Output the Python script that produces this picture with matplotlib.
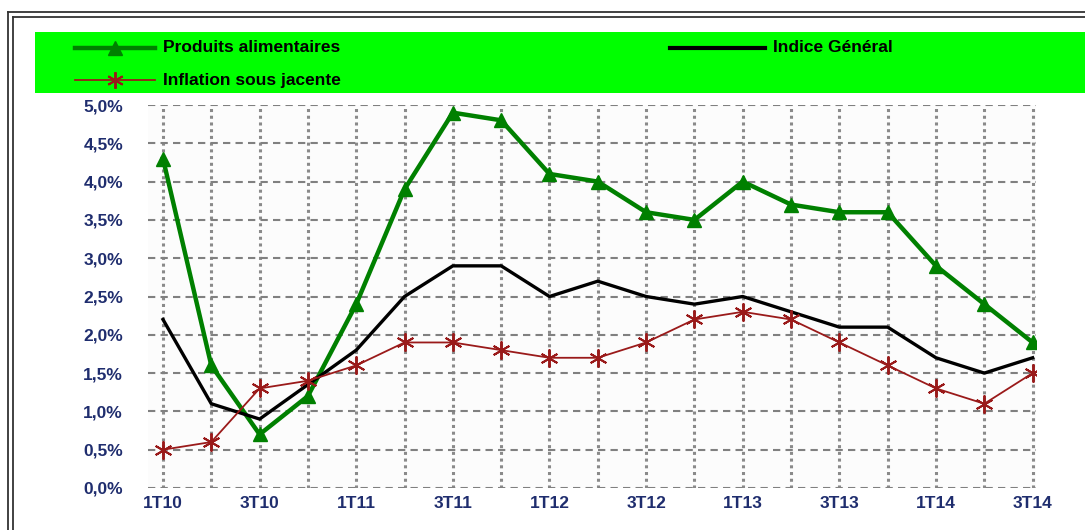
import matplotlib
matplotlib.use("Agg")
import matplotlib.pyplot as plt
from matplotlib.lines import Line2D
from matplotlib.patches import Rectangle

# ---- data ----
quarters = ["1T10", "2T10", "3T10", "4T10",
            "1T11", "2T11", "3T11", "4T11",
            "1T12", "2T12", "3T12", "4T12",
            "1T13", "2T13", "3T13", "4T13",
            "1T14", "2T14", "3T14"]
produits_alimentaires = [4.3, 1.6, 0.7, 1.2, 2.4, 3.9, 4.9, 4.8, 4.1, 4.0,
                         3.6, 3.5, 4.0, 3.7, 3.6, 3.6, 2.9, 2.4, 1.9]
indice_general = [2.2, 1.1, 0.9, 1.35, 1.8, 2.5, 2.9, 2.9, 2.5, 2.7,
                  2.5, 2.4, 2.5, 2.3, 2.1, 2.1, 1.7, 1.5, 1.7]
inflation_sous_jacente = [0.5, 0.6, 1.3, 1.4, 1.6, 1.9, 1.9, 1.8, 1.7, 1.7,
                          1.9, 2.2, 2.3, 2.2, 1.9, 1.6, 1.3, 1.1, 1.5]
yticks = [0.0, 0.5, 1.0, 1.5, 2.0, 2.5, 3.0, 3.5, 4.0, 4.5, 5.0]
ytick_labels = ["0,0%", "0,5%", "1,0%", "1,5%", "2,0%", "2,5%",
                "3,0%", "3,5%", "4,0%", "4,5%", "5,0%"]
series_labels = ["Produits alimentaires", "Indice Général", "Inflation sous jacente"]

W, H = 1085, 530
GREEN = "#008000"
RED = "#9a1a1a"
TICKC = "#1f2d6e"

plt.rcParams["font.family"] = ["Liberation Sans", "DejaVu Sans"]

fig = plt.figure(figsize=(W / 100, H / 100), dpi=100)
fig.patch.set_facecolor("white")


def fx(px):
    return px / W


def fy(py):
    return 1 - py / H


# double frame
for off in (0, 5):
    fig.add_artist(Line2D([fx(8 + off), fx(8 + off)], [fy(12 + off), fy(H + 5)],
                          color="#333333", lw=1.3, transform=fig.transFigure))
    fig.add_artist(Line2D([fx(8 + off), fx(W + 5)], [fy(12 + off), fy(12 + off)],
                          color="#333333", lw=1.3, transform=fig.transFigure))

# legend box
fig.add_artist(Rectangle((fx(35), fy(93)), fx(W - 35), 61 / H,
                         facecolor="#00ff00", edgecolor="none",
                         transform=fig.transFigure))

# axes
ax = fig.add_axes([fx(148), fy(488), fx(1036 - 148), (488 - 105) / H])
ax.set_facecolor("#fcfcfc")
x = list(range(len(quarters)))

ax.plot(x, produits_alimentaires, color=GREEN, lw=3.2, marker="^",
        markersize=10, markerfacecolor=GREEN, markeredgecolor=GREEN, zorder=3)
ax.plot(x, indice_general, color="black", lw=2.4, zorder=4)
ax.plot(x, inflation_sous_jacente, color=RED, lw=1.3, marker=(6, 2, 0),
        markersize=13, markeredgewidth=1.4, markeredgecolor=RED, zorder=5)

ax.set_xlim(-0.31, 18.07)
ax.set_ylim(0, 5)
ax.set_yticks(yticks)
ax.set_yticklabels(ytick_labels)
ax.set_xticks(x)
ax.set_xticklabels([q if i % 2 == 0 else "" for i, q in enumerate(quarters)])

ax.yaxis.grid(True, color="#808080", lw=1.5, linestyle=(0, (3.5, 2.5)), zorder=1)
ax.xaxis.grid(True, color="#8a8a8a", lw=2.2, linestyle=(0, (1.0, 1.2)), zorder=1)
ax.set_axisbelow(True)
for s in ax.spines.values():
    s.set_visible(False)
ax.tick_params(axis="both", length=0, colors=TICKC, labelsize=12.5)
ax.tick_params(axis="y", pad=18)
ax.tick_params(axis="x", pad=6)
for lab in ax.get_xticklabels() + ax.get_yticklabels():
    lab.set_fontweight("bold")
    lab.set_color(TICKC)

# legend entries
def legend_entry(x0, x1, y, color, lw, marker, ms, mew, label):
    fig.add_artist(Line2D([fx(x0), fx(x1)], [fy(y), fy(y)], color=color, lw=lw,
                          transform=fig.transFigure))
    if marker is not None:
        fig.add_artist(Line2D([fx((x0 + x1) / 2)], [fy(y)], color=color,
                              marker=marker, markersize=ms, markeredgewidth=mew,
                              markerfacecolor=color, markeredgecolor=color,
                              linestyle="none", transform=fig.transFigure))
    fig.text(fx(x1 + 8), fy(y), label, fontsize=12.5, fontweight="bold",
             color="black", va="center", ha="left")


legend_entry(75, 155, 48, GREEN, 3.2, "^", 10, 1, series_labels[0])
legend_entry(670, 765, 48, "black", 3.0, None, 0, 0, series_labels[1])
legend_entry(75, 155, 80, RED, 1.3, (6, 2, 0), 12, 1.4, series_labels[2])

fig.savefig("out.png", dpi=100)
